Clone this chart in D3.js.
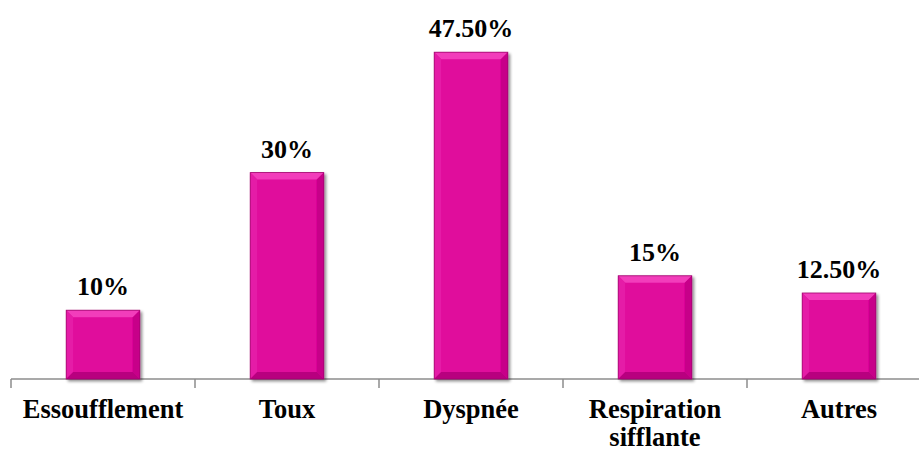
<!DOCTYPE html>
<html>
<head>
<meta charset="utf-8">
<script src="https://cdn.jsdelivr.net/npm/d3@7"></script>
<style>
  html, body { margin: 0; padding: 0; background: #ffffff; }
  svg { display: block; }
  text { font-family: "Liberation Serif", "Times New Roman", serif; font-weight: bold; fill: #000; }
</style>
</head>
<body>
<svg id="chart" width="919" height="452"></svg>
<script>
// Symptom categories (label lines) and their share in percent
const categories = [["Essoufflement"], ["Toux"], ["Dyspnée"], ["Respiration", "sifflante"], ["Autres"]];
const values = [10, 30, 47.5, 15, 12.5];
const valueLabels = ["10%", "30%", "47.50%", "15%", "12.50%"];

const svg = d3.select("#chart");
const W = 919, H = 452;
const x0 = 11, x1 = 931, baseY = 379;

const keys = categories.map(c => c.join(" "));
const x = d3.scaleBand().domain(keys).range([x0, x1]).paddingInner(0.6).paddingOuter(0.3);
const y = d3.scaleLinear().domain([0, 50]).range([baseY, baseY - 344]);

const defs = svg.append("defs");
const shadow = defs.append("filter").attr("id", "shadow").attr("x", "-20%").attr("y", "-20%").attr("width", "140%").attr("height", "140%");
shadow.append("feGaussianBlur").attr("in", "SourceAlpha").attr("stdDeviation", 1.6).attr("result", "b");
shadow.append("feOffset").attr("in", "b").attr("dx", 1.5).attr("dy", 1.5).attr("result", "o");
shadow.append("feComponentTransfer").attr("in", "o").attr("result", "s")
  .append("feFuncA").attr("type", "linear").attr("slope", 0.45);
const merge = shadow.append("feMerge");
merge.append("feMergeNode").attr("in", "s");
merge.append("feMergeNode").attr("in", "SourceGraphic");

// Axis line with category separators
const axisG = svg.append("g");
axisG.append("line").attr("x1", x0).attr("x2", W).attr("y1", baseY).attr("y2", baseY)
  .attr("stroke", "#8c8c8c").attr("stroke-width", 1.5);
const step = x.step();
d3.range(0, keys.length + 1).forEach(i => {
  const tx = x0 + i * step;
  axisG.append("line").attr("x1", tx).attr("x2", tx).attr("y1", baseY).attr("y2", baseY + 9)
    .attr("stroke", "#8c8c8c").attr("stroke-width", 1.5);
});

// Bevelled bars
const bev = 7;
const bars = svg.append("g").selectAll("g.bar").data(keys).join("g").attr("class", "bar")
  .attr("filter", "url(#shadow)");
bars.each(function(k, i) {
  const g = d3.select(this);
  const bx = x(k), bw = x.bandwidth(), top = y(values[i]), bh = baseY - top;
  g.append("rect").attr("x", bx).attr("y", top).attr("width", bw).attr("height", bh).attr("fill", "#E0089C");
  // top bevel
  g.append("path").attr("d", `M${bx},${top}L${bx + bw},${top}L${bx + bw - bev},${top + bev}L${bx + bev},${top + bev}Z`).attr("fill", "#F23CBB");
  // left bevel
  g.append("path").attr("d", `M${bx},${top}L${bx + bev},${top + bev}L${bx + bev},${baseY - bev}L${bx},${baseY}Z`).attr("fill", "#E51FA7");
  // right bevel
  g.append("path").attr("d", `M${bx + bw},${top}L${bx + bw},${baseY}L${bx + bw - bev},${baseY - bev}L${bx + bw - bev},${top + bev}Z`).attr("fill", "#C70489");
  // bottom bevel
  g.append("path").attr("d", `M${bx},${baseY}L${bx + bw},${baseY}L${bx + bw - bev},${baseY - bev}L${bx + bev},${baseY - bev}Z`).attr("fill", "#B8047F");
  g.append("rect").attr("x", bx).attr("y", top).attr("width", bw).attr("height", bh)
    .attr("fill", "none").attr("stroke", "#a0066f").attr("stroke-width", 0.8);
});

// Value labels
svg.append("g").selectAll("text").data(keys).join("text")
  .attr("x", k => x(k) + x.bandwidth() / 2)
  .attr("y", (k, i) => y(values[i]) - 15)
  .attr("text-anchor", "middle")
  .attr("font-size", 26)
  .text((k, i) => valueLabels[i]);

// Category labels
const catG = svg.append("g").selectAll("text").data(categories).join("text")
  .attr("text-anchor", "middle")
  .attr("font-size", 26.5)
  .attr("x", (c, i) => x(keys[i]) + x.bandwidth() / 2)
  .attr("y", 418);
catG.selectAll("tspan").data(d => d).join("tspan")
  .attr("x", function() { return d3.select(this.parentNode).attr("x"); })
  .attr("dy", (d, j) => j === 0 ? 0 : 28)
  .text(d => d);
</script>
</body>
</html>
